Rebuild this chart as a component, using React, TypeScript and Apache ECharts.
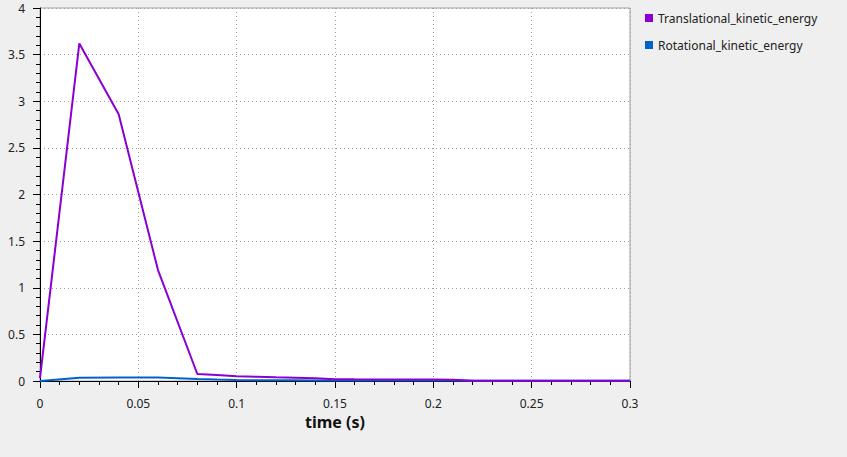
import { useEffect, useRef } from 'react';
import * as echarts from 'echarts';

const times = [0, 0.02, 0.04, 0.06, 0.08, 0.09, 0.1, 0.11, 0.12, 0.13, 0.14, 0.15, 0.16, 0.17, 0.18, 0.19, 0.2, 0.21, 0.22, 0.23, 0.24, 0.25, 0.26, 0.27, 0.28, 0.29, 0.3];
const translational = [0.03, 3.62, 2.86, 1.19, 0.075, 0.065, 0.05, 0.046, 0.04, 0.036, 0.03, 0.02, 0.018, 0.017, 0.016, 0.015, 0.015, 0.014, 0.004, 0.004, 0.004, 0.003, 0.003, 0.003, 0.003, 0.003, 0.003];
const rotational = [0, 0.036, 0.038, 0.037, 0.022, 0.015, 0.011, 0.009, 0.008, 0.007, 0.006, 0.006, 0.006, 0.005, 0.005, 0.005, 0.005, 0.005, 0.004, 0.004, 0.004, 0.003, 0.003, 0.003, 0.003, 0.003, 0.003];

const names = ['Translational_kinetic_energy', 'Rotational_kinetic_energy'];
const colors = ['#8a00d2', '#0063cc'];

const font = 'Noto Sans';

export default function App() {
  const chartRef = useRef<HTMLDivElement>(null);

  useEffect(() => {
    if (!chartRef.current) return;
    const chart = echarts.init(chartRef.current, null, { renderer: 'svg' });

    const fmt = (v: number) => String(parseFloat(v.toFixed(4)));

    const option = {
      animation: false,
      backgroundColor: '#efefef',
      textStyle: { fontFamily: font },
      legend: {
        orient: 'vertical',
        left: 640,
        top: 7,
        itemGap: 15,
        itemWidth: 8,
        itemHeight: 8,
        icon: 'rect',
        selectedMode: false,
        textStyle: { fontSize: 12, color: '#222', fontFamily: font },
        data: names
      },
      grid: {
        left: 40,
        top: 8,
        right: 217,
        bottom: 76,
        show: true,
        backgroundColor: '#ffffff',
        borderColor: '#a0a0a0',
        borderWidth: 1
      },
      xAxis: {
        type: 'value',
        min: 0,
        max: 0.3,
        interval: 0.05,
        offset: 4,
        name: 'time (s)',
        nameLocation: 'middle',
        nameGap: 29,
        nameTextStyle: { fontSize: 16, fontWeight: 'bold', color: '#111', fontFamily: font },
        axisLine: { show: true, lineStyle: { color: '#000', width: 1 } },
        axisTick: { show: true, length: 7, lineStyle: { color: '#000' } },
        minorTick: { show: true, splitNumber: 5, length: 4, lineStyle: { color: '#000' } },
        axisLabel: { fontSize: 12, color: '#222', margin: 12, formatter: fmt },
        splitLine: { show: true, lineStyle: { color: '#a0a0a0', type: [1, 3] } }
      },
      yAxis: {
        type: 'value',
        min: 0,
        max: 4,
        interval: 0.5,
        offset: 5,
        axisLine: { show: true, lineStyle: { color: '#000', width: 1 } },
        axisTick: { show: true, length: 7, lineStyle: { color: '#000' } },
        minorTick: { show: true, splitNumber: 5, length: 4, lineStyle: { color: '#000' } },
        axisLabel: { fontSize: 12, color: '#222', margin: 10, formatter: fmt },
        splitLine: { show: true, lineStyle: { color: '#a0a0a0', type: [1, 3] } }
      },
      series: [
        {
          name: names[0],
          type: 'line',
          z: 3,
          showSymbol: false,
          color: colors[0],
          lineStyle: { width: 2, color: colors[0] },
          data: times.map((t, i) => [t, translational[i]])
        },
        {
          name: names[1],
          type: 'line',
          z: 2,
          showSymbol: false,
          color: colors[1],
          lineStyle: { width: 2, color: colors[1] },
          data: times.map((t, i) => [t, rotational[i]])
        }
      ]
    };

    chart.setOption(option);
    return () => {
      chart.dispose();
    };
  }, []);

  return <div ref={chartRef} style={{ width: 847, height: 457, position: 'absolute', left: 0, top: 0 }} />;
}
